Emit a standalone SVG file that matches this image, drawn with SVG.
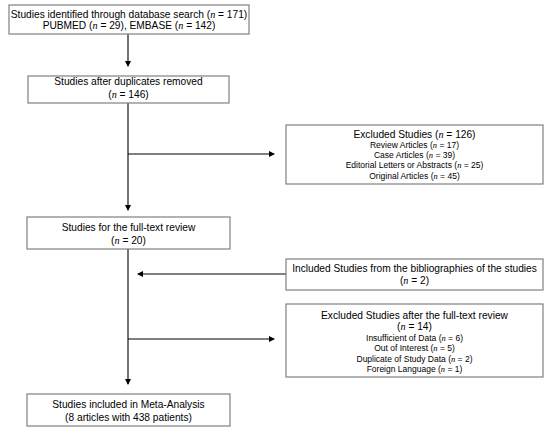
<svg xmlns="http://www.w3.org/2000/svg" width="550" height="430" viewBox="0 0 550 430">
<defs>
<marker id="ah" markerWidth="6" markerHeight="6" refX="5" refY="3" orient="auto" markerUnits="userSpaceOnUse">
<path d="M0,0 L6,3 L0,6 Z" fill="#000"/>
</marker>
<style>
.box{fill:#fff;stroke:#808080;stroke-width:1.2}
.t{font-family:"Liberation Sans",Arial,sans-serif;font-size:10.2px;fill:#000;text-anchor:middle}
.s{font-size:8.5px}
.n{font-family:"Liberation Serif","Times New Roman",serif;font-style:italic}
.ln{stroke:#000;stroke-width:1.1;fill:none}
</style>
</defs>
<rect width="550" height="430" fill="#fff"/>
<g id="connectors">
<line class="ln" x1="128" y1="34" x2="128" y2="66" marker-end="url(#ah)"/>
<line class="ln" x1="128" y1="103" x2="128" y2="210" marker-end="url(#ah)"/>
<line class="ln" x1="128" y1="154" x2="274" y2="154" marker-end="url(#ah)"/>
<line class="ln" x1="128" y1="249" x2="128" y2="384" marker-end="url(#ah)"/>
<line class="ln" x1="286" y1="274" x2="138" y2="274" marker-end="url(#ah)"/>
<line class="ln" x1="128" y1="339" x2="274" y2="339" marker-end="url(#ah)"/>
</g>
<g id="search">
<rect class="box" x="9" y="5" width="240" height="29"/>
<text class="t" x="129" y="17.5">Studies identified through database search (<tspan class="n">n</tspan> = 171)</text>
<text class="t" x="129" y="28.5">PUBMED (<tspan class="n">n</tspan> = 29), EMBASE (<tspan class="n">n</tspan> = 142)</text>
</g>
<g id="dedup">
<rect class="box" x="28" y="76" width="201" height="27"/>
<text class="t" x="128.5" y="84.5">Studies after duplicates removed</text>
<text class="t" x="128.5" y="97.5">(<tspan class="n">n</tspan> = 146)</text>
</g>
<g id="excluded1">
<rect class="box" x="286" y="125" width="257" height="59"/>
<text class="t" x="414.5" y="138">Excluded Studies (<tspan class="n">n</tspan> = 126)</text>
<text class="t s" x="414.5" y="147.5">Review Articles (<tspan class="n">n</tspan> = 17)</text>
<text class="t s" x="414.5" y="158">Case Articles (<tspan class="n">n</tspan> = 39)</text>
<text class="t s" x="414.5" y="168">Editorial Letters or Abstracts (<tspan class="n">n</tspan> = 25)</text>
<text class="t s" x="414.5" y="178.5">Original Articles (<tspan class="n">n</tspan> = 45)</text>
</g>
<g id="fulltext">
<rect class="box" x="27" y="217" width="203" height="32"/>
<text class="t" x="128.5" y="230.5">Studies for the full-text review</text>
<text class="t" x="128.5" y="243.5">(<tspan class="n">n</tspan> = 20)</text>
</g>
<g id="included">
<rect class="box" x="286" y="259" width="257" height="31"/>
<text class="t" x="414.5" y="271.5">Included Studies from the bibliographies of the studies</text>
<text class="t" x="414.5" y="284">(<tspan class="n">n</tspan> = 2)</text>
</g>
<g id="excluded2">
<rect class="box" x="286" y="304" width="257" height="73"/>
<text class="t" x="414.5" y="318.5">Excluded Studies after the full-text review</text>
<text class="t" x="414.5" y="329.5">(<tspan class="n">n</tspan> = 14)</text>
<text class="t s" x="414.5" y="340.5">Insufficient of Data (<tspan class="n">n</tspan> = 6)</text>
<text class="t s" x="414.5" y="351">Out of Interest (<tspan class="n">n</tspan> = 5)</text>
<text class="t s" x="414.5" y="361.5">Duplicate of Study Data (<tspan class="n">n</tspan> = 2)</text>
<text class="t s" x="414.5" y="372">Foreign Language (<tspan class="n">n</tspan> = 1)</text>
</g>
<g id="final">
<rect class="box" x="27" y="394" width="203" height="32"/>
<text class="t" x="128.5" y="407.5">Studies included in Meta-Analysis</text>
<text class="t" x="128.5" y="420.5">(8 articles with 438 patients)</text>
</g>
</svg>
